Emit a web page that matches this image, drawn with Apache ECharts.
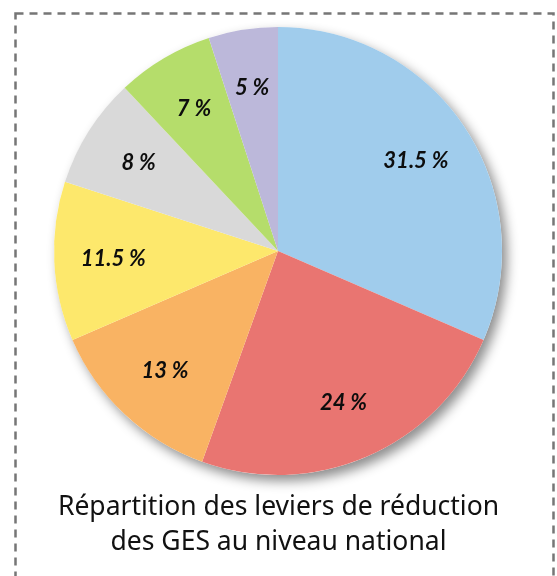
<!DOCTYPE html>
<html>
<head>
<meta charset="utf-8">
<script src="https://cdn.jsdelivr.net/npm/echarts@6/dist/echarts.min.js"></script>
<style>
	html, body { margin: 0; padding: 0; background: #fff; }
	#main { width: 557px; height: 576px; }
</style>
</head>
<body>
<div id="main"></div>
<script>
	/*数据*/
	var parts = [31.5, 24, 13, 11.5, 8, 7, 5];
	var colors = ['#a0ccec', '#e97571', '#f9b363', '#fde86c', '#d9d9d9', '#b5dd6b', '#bcb8da'];
	var titleLines = ['Répartition des leviers de réduction', 'des GES au niveau national'];

	var pieData = [];
	for(var i = 0; i < parts.length; i++) {
		pieData.push({
			value: parts[i],
			itemStyle: { color: colors[i] }
		});
	}

	var center = [278, 251];
	var myChart = echarts.init(document.getElementById('main'));
	var option = {
		animation: false,
		title: {
			text: titleLines.join('\n'),
			left: 'center',
			top: 485,
			textStyle: {
				fontFamily: 'Noto Sans',
				fontWeight: 'normal',
				fontSize: 26.5,
				lineHeight: 35,
				color: '#111'
			}
		},
		graphic: [{
			type: 'rect',
			shape: { x: 15.5, y: 13.5, width: 538, height: 620 },
			style: {
				fill: 'none',
				stroke: '#767676',
				lineWidth: 2.5,
				lineDash: [8, 6]
			},
			z: -1
		}],
		series: [{
			// 阴影底层
			type: 'pie',
			center: center,
			radius: [0, 224],
			silent: true,
			label: { show: false },
			data: [{ value: 1, itemStyle: { color: '#fff' } }],
			itemStyle: {
				shadowBlur: 12,
				shadowOffsetX: 5,
				shadowOffsetY: 6,
				shadowColor: 'rgba(0,0,0,0.45)'
			},
			z: 1
		}, {
			type: 'pie',
			center: center,
			radius: [0, 224],
			startAngle: 90,
			clockwise: true,
			silent: true,
			label: { show: false },
			data: pieData,
			z: 2
		}, {
			// 标签层
			type: 'pie',
			center: center,
			radius: [100, 224],
			startAngle: 90,
			clockwise: true,
			silent: true,
			itemStyle: { color: 'rgba(0,0,0,0)' },
			label: {
				show: true,
				position: 'inside',
				formatter: '{c} %',
				fontFamily: 'Lato',
				fontSize: 22,
				fontWeight: 'bold',
				fontStyle: 'italic',
				color: '#0d0d0d'
			},
			data: parts,
			z: 3
		}]
	};
	myChart.setOption(option);
</script>
</body>
</html>
